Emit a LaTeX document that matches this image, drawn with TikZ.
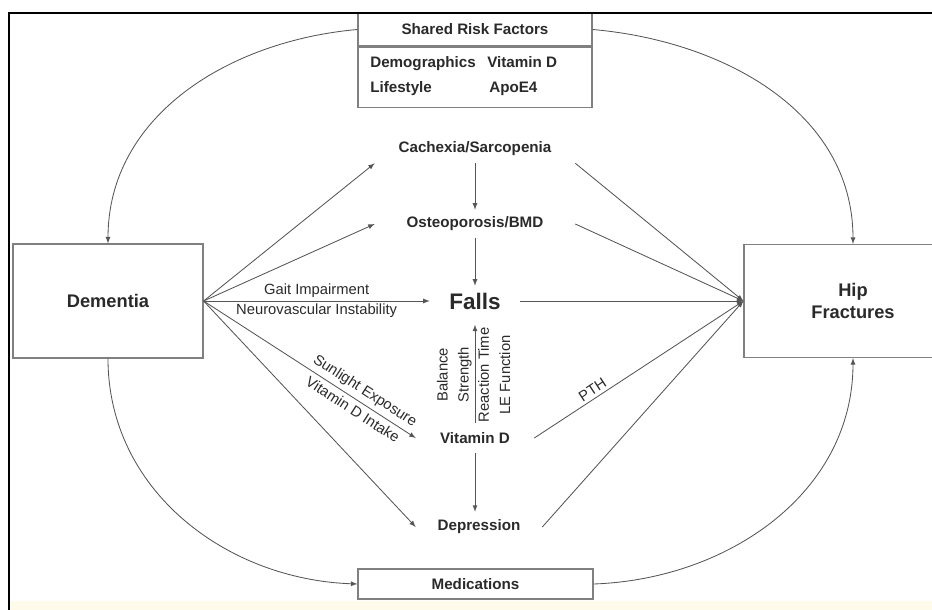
\documentclass[tikz,border=0pt]{standalone}
\usepackage{fontspec}
\setmainfont{Liberation Sans}
\usepackage{xcolor}
\usepackage{tikz}
\usetikzlibrary{calc, positioning}

\definecolor{txtgray}{HTML}{2A2A2A}
\definecolor{linegray}{HTML}{555555}
\definecolor{boxgray}{HTML}{808080}
\definecolor{bandcream}{HTML}{FFFBEA}

\begin{document}
\begin{tikzpicture}[>=latex, x=0.025cm, y=-0.025cm,
    bigbox/.style={draw=boxgray, line width=0.8pt, fill=white, text=txtgray, align=center,
        font=\bfseries\fontsize{13}{15.5}\selectfont},
    smallbox/.style={draw=boxgray, line width=0.8pt, fill=white, text=txtgray,
        font=\bfseries\fontsize{10.8}{13}\selectfont},
    factor/.style={text=txtgray, inner sep=0pt, font=\bfseries\fontsize{10.8}{13}\selectfont},
    midnode/.style={text=txtgray, inner sep=2pt, font=\bfseries\fontsize{10.8}{13}\selectfont},
    lbl/.style={text=txtgray, inner sep=2pt, align=center, font=\fontsize{10.5}{15}\selectfont},
    conn/.style={->, draw=linegray, line width=0.6pt}]
    \useasboundingbox (0,0) rectangle (932,610);
    \clip (0,0) rectangle (932,610);
    \fill[bandcream] (9,601) rectangle (932,610);

    % Các hộp chính
    \node[bigbox, minimum width=4.75cm, minimum height=2.85cm] (dem) at (108,301) {Dementia};
    \node[bigbox, minimum width=5.45cm, minimum height=2.825cm] (hip) at (853,301) {Hip\\Fractures};
    \node[smallbox, minimum width=5.85cm, minimum height=0.825cm] (srf) at (475,29.5) {Shared Risk Factors};
    \node[smallbox, minimum width=5.85cm, minimum height=1.5cm, anchor=north] (srfbody) at (srf.south) {};
    \node[smallbox, minimum width=5.875cm, minimum height=0.75cm] (med) at (475.5,584) {Medications};

    % Các yếu tố chung
    \node[factor, anchor=base west] (demog) at (370,68) {Demographics};
    \node[factor, anchor=base west] (vitdf) at (487,68) {Vitamin D};
    \node[factor, anchor=base west] (life) at (370,93) {Lifestyle};
    \node[factor, anchor=base west] (apoe) at (489,93) {ApoE4};

    % Các nút ở giữa
    \node[midnode, minimum width=5cm, minimum height=0.7cm] (cach) at (475,149) {Cachexia/Sarcopenia};
    \node[midnode, minimum width=5cm, minimum height=0.7cm] (ost) at (475,224) {Osteoporosis/BMD};
    \node[midnode, minimum width=2.25cm, minimum height=0.75cm,
        font=\bfseries\fontsize{16}{19}\selectfont] (falls) at (475,301) {Falls};
    \node[midnode, minimum width=2.95cm, minimum height=0.75cm] (vitd) at (475,438) {Vitamin D};
    \node[midnode, minimum width=3.15cm, minimum height=0.75cm] (dep) at (479,527) {Depression};

    % Mũi tên dọc
    \draw[conn] (cach.south) -- (ost.north);
    \draw[conn] (ost.south) -- (falls.north);
    \draw[conn, shorten >=6pt] (vitd.north) -- (falls.south)
        node[lbl, pos=0.45, sloped, above] (bal) {Balance\\Strength}
        node[lbl, pos=0.45, sloped, below] (react) {Reaction Time\\LE Function};
    \draw[conn] (vitd.south) -- (vitd.south |- dep.north);

    % Từ Dementia
    \draw[conn] (dem.east) -- (cach.south west);
    \draw[conn] (dem.east) -- (ost.west);
    \draw[conn] (dem.east) -- (falls.west)
        node[lbl, midway, above] (gait) {Gait Impairment}
        node[lbl, midway, below] (neuro) {Neurovascular Instability};
    \draw[conn] (dem.east) -- (vitd.west)
        node[lbl, pos=0.73, sloped, above, inner sep=3pt] (sun) {Sunlight Exposure}
        node[lbl, pos=0.73, sloped, below, inner sep=3pt] (intake) {Vitamin D Intake};
    \draw[conn] (dem.east) -- (dep.west);

    % Đến Hip Fractures
    \draw[conn] (cach.south east) -- (hip.west);
    \draw[conn] (ost.east) -- (hip.west);
    \draw[conn] (falls.east) -- (hip.west);
    \draw[conn] (vitd.east) -- (hip.west) node[lbl, pos=0.3, sloped, above] (pth) {PTH};
    \draw[conn] (dep.east) -- (hip.west);

    % Các đường cong
    \draw[conn] (srf.west) to[out=185, in=90] (dem.north);
    \draw[conn] (srf.east) to[out=-5, in=90] (hip.north);
    \draw[conn] (dem.south) to[out=-90, in=178] (med.west);
    \draw[conn] (med.east) to[out=2, in=-90] (hip.south);

    % Khung
    \draw[line width=2.1pt] (9,610) -- (9,13) -- (932,13);
\end{tikzpicture}
\end{document}
